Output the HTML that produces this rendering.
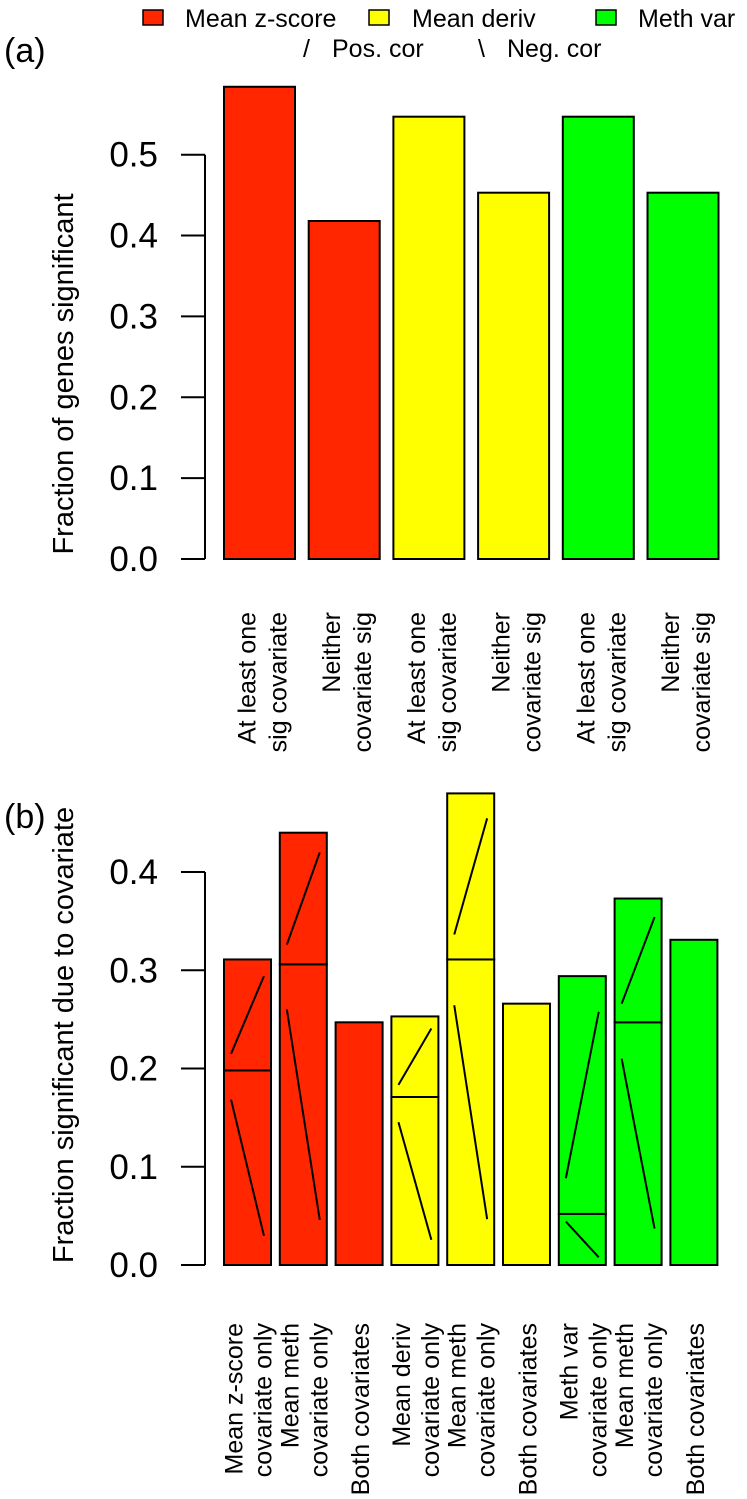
<!DOCTYPE html>
<html><head><meta charset="utf-8">
<style>
html,body{margin:0;padding:0;background:#fff;}
svg{display:block;font-family:"Liberation Sans",Arial,sans-serif;}
</style></head>
<body>
<svg id="chart" width="747" height="1499" viewBox="0 0 747 1499" xmlns="http://www.w3.org/2000/svg">
  <g font-size="25">
    <rect x="143" y="10" width="20" height="15" fill="#ff2600" stroke="#000" stroke-width="1.5"/>
    <text x="185" y="27">Mean z-score</text>
    <rect x="369" y="10" width="20" height="15" fill="#ffff00" stroke="#000" stroke-width="1.5"/>
    <text x="412" y="27">Mean deriv</text>
    <rect x="596" y="10" width="20" height="15" fill="#00ff00" stroke="#000" stroke-width="1.5"/>
    <text x="638" y="27">Meth var</text>
    <text x="303" y="57">/</text>
    <text x="332" y="57">Pos. cor</text>
    <text x="478" y="57">\</text>
    <text x="507" y="57">Neg. cor</text>
  </g>
  <text x="4" y="62" font-size="34">(a)</text>
  <text x="4" y="828" font-size="34">(b)</text>
  <text font-size="29" text-anchor="middle" transform="translate(73,374) rotate(-90)">Fraction of genes significant</text>
  <text font-size="29" text-anchor="middle" transform="translate(73,1035) rotate(-90)">Fraction significant due to covariate</text>
  <g id="pa"></g>
  <g id="pb"></g>
</svg>
<script>
const aCategories = [["At least one","sig covariate"],["Neither","covariate sig"],["At least one","sig covariate"],["Neither","covariate sig"],["At least one","sig covariate"],["Neither","covariate sig"]];
const aValues = [0.584, 0.418, 0.547, 0.453, 0.547, 0.453];
const aColors = ["#ff2600","#ff2600","#ffff00","#ffff00","#00ff00","#00ff00"];
const aTicks = ["0.0","0.1","0.2","0.3","0.4","0.5"];

const bCategories = [["Mean z-score","covariate only"],["Mean meth","covariate only"],["Both covariates"],["Mean deriv","covariate only"],["Mean meth","covariate only"],["Both covariates"],["Meth var","covariate only"],["Mean meth","covariate only"],["Both covariates"]];
const bNeg = [0.198, 0.306, 0.247, 0.171, 0.311, 0.266, 0.052, 0.247, 0.331];
const bPos = [0.113, 0.134, 0, 0.082, 0.169, 0, 0.242, 0.126, 0];
const bHatched = [true, true, false, true, true, false, true, true, false];
const bColors = ["#ff2600","#ff2600","#ff2600","#ffff00","#ffff00","#ffff00","#00ff00","#00ff00","#00ff00"];
const bTicks = ["0.0","0.1","0.2","0.3","0.4"];

const NS = "http://www.w3.org/2000/svg";
function mk(tag, attrs, parent){ const e=document.createElementNS(NS,tag); for(const k in attrs) e.setAttribute(k,attrs[k]); parent.appendChild(e); return e; }

function axis(g, y, ticks, name){
  const v0=parseFloat(ticks[0]), v1=parseFloat(ticks[ticks.length-1]);
  const ax = mk('line',{x1:205,x2:205,y1:y(v0),y2:y(v1),stroke:'#000','stroke-width':2},g);
  
  
  ticks.forEach(t=>{
    const v=parseFloat(t);
    const tk = mk('line',{x1:181,x2:205,y1:y(v),y2:y(v),stroke:'#000','stroke-width':2},g);
    
    
    const tl = mk('text',{x:158,y:y(v)+12,'font-size':35,'text-anchor':'end'},g);
    tl.textContent=t;
    
    
  });
}
function label(g, lines, cx, topY, offs){
  lines.forEach((s,i)=>{
    const bx = cx + (lines.length===1 ? offs[2] : offs[i]);
    const t = mk('text',{'font-size':25,'text-anchor':'end',transform:`translate(${bx},${topY}) rotate(-90)`},g);
    t.textContent=s;
    
    
  });
}

// Panel A
(function(){
  const g=document.getElementById('pa');
  const y=v=>559 - v*808.6;
  axis(g,y,aTicks,'panel-a');
  const x0=224, step=84.7, w=71;
  aValues.forEach((v,i)=>{
    const x=x0+i*step;
    const r=mk('rect',{x:x,y:y(v),width:w,height:y(0)-y(v),fill:aColors[i],stroke:'#000','stroke-width':2},g);
    
    
    label(g,aCategories[i],x+w/2,612,[-4,27,10]);
  });
})();

// Panel B
(function(){
  const g=document.getElementById('pb');
  const y=v=>1265 - v*982.5;
  axis(g,y,bTicks,'panel-b');
  const x0=224, step=55.8, w=47;
  bNeg.forEach((n,i)=>{
    const x=x0+i*step, p=bPos[i];
    const r=mk('rect',{x:x,y:y(n),width:w,height:y(0)-y(n),fill:bColors[i],stroke:'#000','stroke-width':2},g);
    
    
    if(p>0){
      const r2=mk('rect',{x:x,y:y(n+p),width:w,height:y(n)-y(n+p),fill:bColors[i],stroke:'#000','stroke-width':2},g);
      
      
    }
    if(bHatched[i]){
      const t1=y(n), b1=y(0), h1=b1-t1;
      const l1=mk('line',{x1:x+0.15*w,y1:t1+0.15*h1,x2:x+0.85*w,y2:b1-0.15*h1,stroke:'#000','stroke-width':2},g);
      
      
      const t2=y(n+p), b2=y(n), h2=b2-t2;
      const l2=mk('line',{x1:x+0.15*w,y1:b2-0.15*h2,x2:x+0.85*w,y2:t2+0.15*h2,stroke:'#000','stroke-width':2},g);
      
      
    }
    label(g,bCategories[i],x+w/2,1323,[-5,24,10]);
  });
})();
</script>
</body></html>
